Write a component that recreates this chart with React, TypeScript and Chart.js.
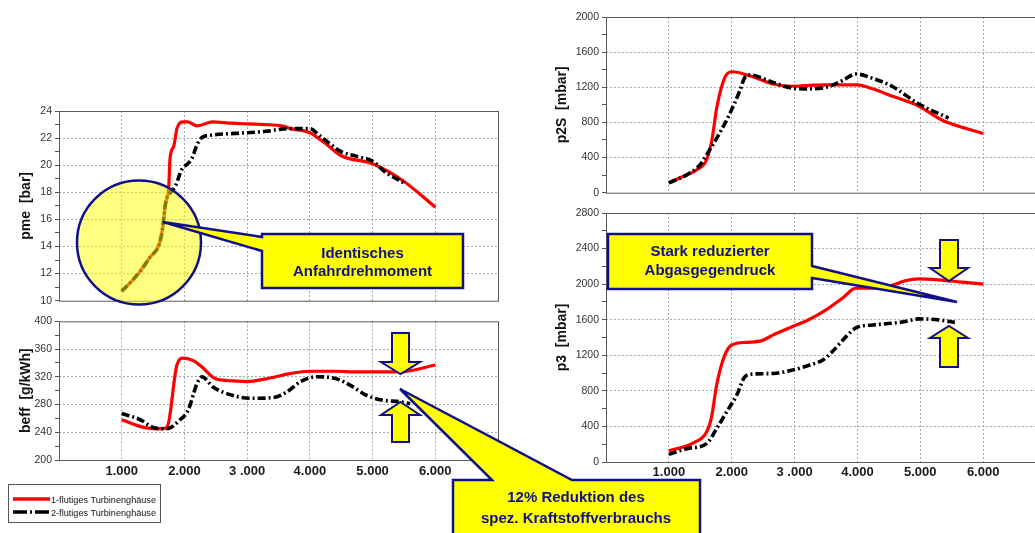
import React, { useEffect, useRef } from 'react';
import { Chart, registerables } from 'chart.js';

Chart.register(...registerables);

// ---------- data ----------
const seriesNames = ['1-flutiges Turbinenghäuse', '2-flutiges Turbinenghäuse'];
const rpmTicks = [1000, 2000, 3000, 4000, 5000, 6000];
const rpmTickLabels = ['1.000', '2.000', '3 .000', '4.000', '5.000', '6.000'];

// pme [bar]
const pmeRpm1 = [1000, 1150, 1300, 1450, 1600, 1650, 1700, 1750, 1770, 1830, 1880, 1980, 2050, 2200, 2450, 2750, 3000, 3300, 3550, 3700, 4000, 4250, 4500, 5000, 5500, 6000];
const pmeVal1 = [10.7, 11.4, 12.2, 13.2, 14.2, 15.3, 17.2, 18.4, 20.5, 21.4, 22.7, 23.2, 23.2, 22.9, 23.2, 23.1, 23.05, 23.0, 22.9, 22.7, 22.4, 21.6, 20.7, 20.1, 18.8, 16.9];
const pmeRpm2 = [1000, 1150, 1300, 1450, 1600, 1650, 1700, 1800, 1850, 1960, 2050, 2120, 2200, 2280, 2400, 2800, 3000, 3300, 3650, 4000, 4150, 4500, 4750, 5000, 5200, 5500];
const pmeVal2 = [10.7, 11.4, 12.2, 13.2, 14.2, 15.3, 17.2, 18.1, 18.4, 19.7, 20.1, 20.5, 21.5, 22.05, 22.2, 22.35, 22.4, 22.5, 22.7, 22.7, 22.2, 21.0, 20.65, 20.3, 19.5, 18.7];

// beff [g/kWh]
const beffRpm1 = [1000, 1350, 1550, 1700, 1750, 1880, 1980, 2150, 2280, 2500, 2780, 3000, 3300, 3700, 4000, 4400, 4750, 5450, 6000];
const beffVal1 = [258, 247, 245, 246, 255, 337, 347, 343, 334, 317, 314, 313, 317, 325, 328, 328, 327, 327, 337];
const beffRpm2 = [1000, 1300, 1500, 1720, 1930, 2060, 2200, 2280, 2460, 2780, 3050, 3420, 3630, 3850, 4110, 4430, 4640, 4910, 5180, 5440, 5600];
const beffVal2 = [267, 258, 247, 245, 258, 272, 310, 320, 305, 293, 289, 290, 298, 313, 320, 317, 308, 293, 286, 284, 281];

// p2S [mbar]
const p2sRpm1 = [1000, 1180, 1450, 1600, 1690, 1760, 1890, 2000, 2400, 2650, 3000, 3300, 3500, 4000, 4250, 4550, 4970, 5350, 6000];
const p2sVal1 = [110, 170, 263, 375, 620, 960, 1310, 1377, 1302, 1238, 1212, 1225, 1227, 1227, 1180, 1100, 987, 825, 675];
const p2sRpm2 = [1000, 1290, 1500, 1600, 1820, 1970, 2130, 2210, 2290, 2650, 2970, 3180, 3500, 3760, 3980, 4240, 4550, 4970, 5450];
const p2sVal2 = [113, 206, 319, 431, 694, 900, 1163, 1313, 1340, 1257, 1189, 1182, 1200, 1276, 1351, 1302, 1212, 1013, 850];

// p3 [mbar]
const p3Rpm1 = [1000, 1400, 1600, 1680, 1760, 1880, 2000, 2240, 2480, 2660, 2970, 3240, 3500, 3760, 3980, 4240, 4500, 4760, 4970, 5290, 5660, 6000];
const p3Val1 = [124, 218, 338, 508, 865, 1184, 1316, 1346, 1365, 1429, 1523, 1605, 1711, 1842, 1955, 1955, 1974, 2038, 2060, 2049, 2023, 2000];
const p3Rpm2 = [1000, 1290, 1600, 1760, 1920, 2080, 2210, 2340, 2660, 2970, 3240, 3450, 3600, 3820, 3980, 4240, 4550, 4760, 4970, 5290, 5550];
const p3Val2 = [86, 150, 207, 376, 564, 752, 959, 989, 996, 1034, 1090, 1147, 1241, 1410, 1511, 1541, 1560, 1579, 1609, 1598, 1570];

// ---------- helpers ----------
const FONT = "'Liberation Sans', Arial, Helvetica, sans-serif";
const NAVY = '#10108a';
const GRID = '#a8a8a8';

const pts = (xs: number[], ys: number[]) => xs.map((x, i) => ({ x, y: ys[i] }));

const framePlugin = {
  id: 'frame',
  beforeDatasetsDraw(chart: any) {
    const { ctx, chartArea } = chart;
    const { left, top, right, bottom } = chartArea;
    ctx.save();
    ctx.strokeStyle = '#5a5a5a';
    ctx.lineWidth = 1;
    ctx.strokeRect(left + 0.5, top + 0.5, right - left, bottom - top);
    ctx.restore();
  },
};

interface Spec {
  x1: number[]; y1: number[]; x2: number[]; y2: number[];
  ymin: number; ymax: number; ymajor: number;
  title: string; yWidth: number; xHeight: number; padTop: number; padRight: number;
  showX: boolean; xPad: number; titlePad: number;
}

function makeConfig(s: Spec): any {
  return {
    type: 'line',
    data: {
      datasets: [
        {
          label: seriesNames[0], data: pts(s.x1, s.y1), borderColor: '#ff0000', borderWidth: 3.2,
          pointRadius: 0, cubicInterpolationMode: 'monotone', fill: false, order: 1,
        },
        {
          label: seriesNames[1], data: pts(s.x2, s.y2), borderColor: '#000000', borderWidth: 3.6,
          borderDash: [8, 3, 2, 3], pointRadius: 0, cubicInterpolationMode: 'monotone', fill: false, order: 0,
        },
      ],
    },
    options: {
      responsive: false,
      animation: false,
      events: [],
      layout: { padding: { top: s.padTop, right: s.padRight, left: 0, bottom: 0 } },
      plugins: { legend: { display: false }, tooltip: { enabled: false } },
      scales: {
        x: {
          type: 'linear', min: 0, max: 7000,
          afterFit: (sc: any) => { sc.height = s.xHeight; },
          ticks: {
            stepSize: 1000, autoSkip: false, maxRotation: 0, display: s.showX, padding: s.xPad,
            font: { family: FONT, size: 13, weight: 'bold' }, color: '#1a1a1a',
            callback: (v: number) => { const i = rpmTicks.indexOf(v); return i >= 0 ? rpmTickLabels[i] : ''; },
          },
          grid: {
            color: (c: any) => (c.tick && c.tick.value > 0 && c.tick.value < 7000 ? GRID : 'transparent'),
            drawTicks: false, lineWidth: 1,
          },
          border: { display: false, dash: [2, 2] },
        },
        y: {
          min: s.ymin, max: s.ymax,
          afterFit: (sc: any) => { sc.width = s.yWidth; },
          ticks: {
            stepSize: s.ymajor / 2, autoSkip: false, padding: 3,
            font: { family: FONT, size: 10.5 }, color: '#333',
            callback: (v: number) => (Math.round(v - s.ymin) % s.ymajor === 0 ? String(v) : ''),
          },
          grid: {
            color: (c: any) => (c.tick && Math.round(c.tick.value - s.ymin) % s.ymajor === 0 && c.tick.value > s.ymin && c.tick.value < s.ymax ? GRID : 'transparent'),
            tickColor: '#555', tickLength: 4, drawTicks: true, lineWidth: 1,
          },
          border: { display: false, dash: [2, 2] },
          title: {
            display: true, text: s.title, color: '#111',
            font: { family: FONT, size: 14, weight: 'bold' },
            padding: { top: s.titlePad, bottom: 0 },
          },
        },
      },
    },
    plugins: [framePlugin],
  };
}

function ChartBox(props: { left: number; top: number; width: number; height: number; spec: Spec }) {
  const ref = useRef<HTMLCanvasElement>(null);
  useEffect(() => {
    if (!ref.current) return;
    const chart = new Chart(ref.current, makeConfig(props.spec));
    return () => chart.destroy();
  }, []);
  return (
    <canvas
      ref={ref}
      width={props.width}
      height={props.height}
      style={{ position: 'absolute', left: props.left, top: props.top, width: props.width, height: props.height }}
    />
  );
}

const specs: { pos: [number, number, number, number]; spec: Spec }[] = [
  {
    pos: [0, 100, 520, 210],
    spec: { x1: pmeRpm1, y1: pmeVal1, x2: pmeRpm2, y2: pmeVal2, ymin: 10, ymax: 24, ymajor: 2, title: 'pme  [bar]',
      yWidth: 59, xHeight: 7, padTop: 11, padRight: 22, showX: false, xPad: 0, titlePad: 17.6 },
  },
  {
    pos: [0, 312, 520, 175],
    spec: { x1: beffRpm1, y1: beffVal1, x2: beffRpm2, y2: beffVal2, ymin: 200, ymax: 400, ymajor: 40, title: 'beff  [g/kWh]',
      yWidth: 59, xHeight: 27, padTop: 9, padRight: 22, showX: true, xPad: 4, titlePad: 17.6 },
  },
  {
    pos: [540, 5, 520, 197],
    spec: { x1: p2sRpm1, y1: p2sVal1, x2: p2sRpm2, y2: p2sVal2, ymin: 0, ymax: 2000, ymajor: 400, title: 'p2S  [mbar]',
      yWidth: 66, xHeight: 7, padTop: 12, padRight: 14, showX: false, xPad: 0, titlePad: 14.1 },
  },
  {
    pos: [540, 202, 520, 285],
    spec: { x1: p3Rpm1, y1: p3Val1, x2: p3Rpm2, y2: p3Val2, ymin: 0, ymax: 2800, ymajor: 400, title: 'p3  [mbar]',
      yWidth: 66, xHeight: 25, padTop: 11, padRight: 14, showX: true, xPad: 3, titlePad: 14.1 },
  },
];

function Overlay() {
  const txt = { fontFamily: FONT, fontSize: 15, fontWeight: 700, fill: NAVY, textAnchor: 'middle' as const, dominantBaseline: 'central' as const };
  const poly = { fill: '#ffff00', stroke: NAVY, strokeWidth: 2.5, strokeLinejoin: 'miter' as const };
  const leg = { fontFamily: FONT, fontSize: 9.5, fill: '#111', dominantBaseline: 'central' as const, lengthAdjust: 'spacingAndGlyphs' as const };
  return (
    <svg width={1035} height={533} style={{ position: 'absolute', left: 0, top: 0, pointerEvents: 'none' }}>
      {/* circle highlight */}
      <circle cx={139} cy={242.5} r={62} fill="rgba(255,255,0,0.5)" stroke={NAVY} strokeWidth={2.5} />
      {/* callout 1 */}
      <polygon {...poly} points="262,234 463,234 463,288 262,288 262,251 163,222 262,237" />
      <text {...txt} x={362.5} y={252}>Identisches</text>
      <text {...txt} x={362.5} y={270}>Anfahrdrehmoment</text>
      {/* callout 2 */}
      <polygon {...poly} points="608,234 812,234 812,266 957,302 812,278 812,289 608,289" />
      <text {...txt} x={710} y={250}>Stark reduzierter</text>
      <text {...txt} x={710} y={269}>Abgasgegendruck</text>
      {/* callout 3 */}
      <polygon {...poly} points="453,480 492,480 400,389 572,480 700,480 700,545 453,545" />
      <text {...txt} x={576} y={496}>12% Reduktion des</text>
      <text {...txt} x={576} y={517}>spez. Kraftstoffverbrauchs</text>
      {/* arrows beff */}
      <polygon {...poly} strokeWidth={2} points="392,333 409,333 409,362 420,362 400.5,374 381,362 392,362" />
      <polygon {...poly} strokeWidth={2} points="400.5,402 420,415 409,415 409,442 392,442 392,415 381,415" />
      {/* arrows p3 */}
      <polygon {...poly} strokeWidth={2} points="940,240 958,240 958,268 968,268 949,281 930,268 940,268" />
      <polygon {...poly} strokeWidth={2} points="949,326 968,338 958,338 958,367 940,367 940,338 930,338" />
      {/* legend */}
      <rect x={8.5} y={484.5} width={152} height={38} fill="#fff" stroke="#555" strokeWidth={1} />
      <line x1={13} y1={499} x2={50} y2={499} stroke="#ff0000" strokeWidth={3.5} />
      <line x1={13} y1={512} x2={50} y2={512} stroke="#000" strokeWidth={3.5} strokeDasharray="14,3,2,3" />
      <text {...leg} x={51} y={499} textLength={105}>{seriesNames[0]}</text>
      <text {...leg} x={51} y={512} textLength={105}>{seriesNames[1]}</text>
    </svg>
  );
}

export default function App() {
  return (
    <div style={{ position: 'fixed', left: 0, top: 0, width: 1035, height: 533, overflow: 'hidden', background: '#fff' }}>
      {specs.map((c, i) => (
        <ChartBox key={i} left={c.pos[0]} top={c.pos[1]} width={c.pos[2]} height={c.pos[3]} spec={c.spec} />
      ))}
      <Overlay />
    </div>
  );
}
